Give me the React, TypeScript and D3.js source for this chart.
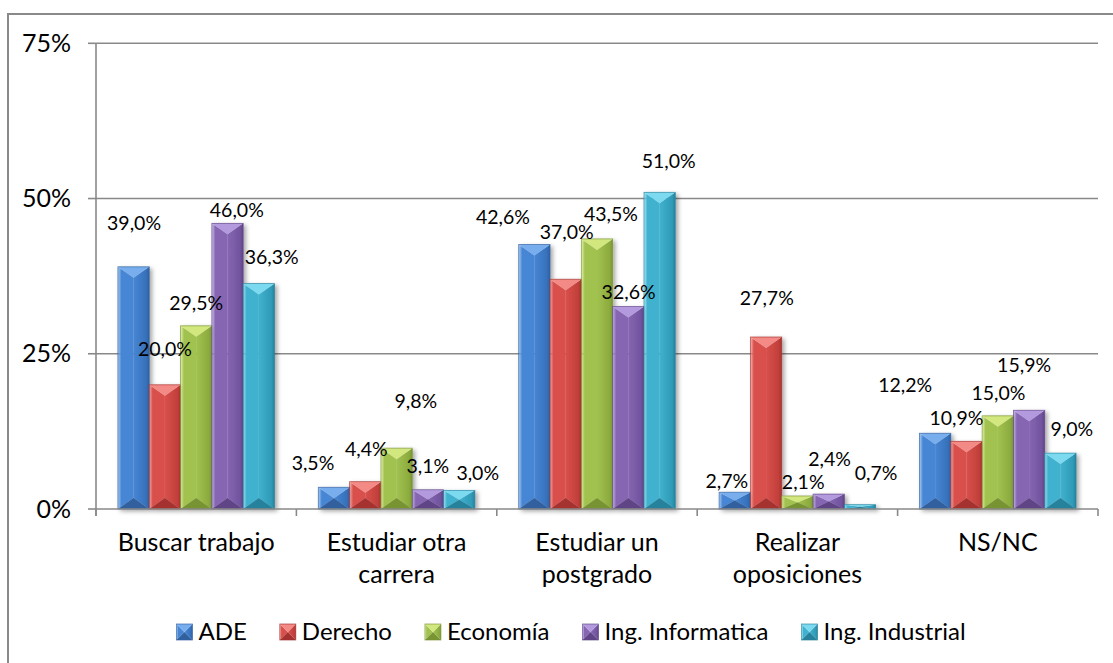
import React, { useMemo } from "react";
import * as d3 from "d3";

// ---------- data ----------
const categories = [
  "Buscar trabajo",
  "Estudiar otra carrera",
  "Estudiar un postgrado",
  "Realizar oposiciones",
  "NS/NC",
];
const seriesNames = ["ADE", "Derecho", "Economía", "Ing. Informatica", "Ing. Industrial"];
const ade = [39.0, 3.5, 42.6, 2.7, 12.2];
const derecho = [20.0, 4.4, 37.0, 27.7, 10.9];
const economia = [29.5, 9.8, 43.5, 2.1, 15.0];
const informatica = [46.0, 3.1, 32.6, 2.4, 15.9];
const industrial = [36.3, 3.0, 51.0, 0.7, 9.0];
const seriesValues = [ade, derecho, economia, informatica, industrial];
const yTicks = [0, 25, 50, 75];

// ---------- layout / style ----------
const W = 1113;
const H = 663;
const PLOT = { left: 96, right: 1098, top: 43.3, bottom: 509 };
const FONT = "Lato, 'Open Sans', sans-serif";
const AXIS_FS = 25;
const LABEL_FS = 19.5;
const LEGEND_FS = 24;
const GRID = "#898989";

// palette: [top facet, left body, right body, bottom facet]
const palette = [
  ["#78aeee", "#4686d4", "#3771bb", "#30609f"],
  ["#f48a86", "#d9504b", "#c13f3b", "#a5322f"],
  ["#d2e87e", "#a2c250", "#8cab3e", "#789433"],
  ["#b39ade", "#8666b3", "#71539e", "#5f4586"],
  ["#7cdaf0", "#3fb2cf", "#2f9ab7", "#26829c"],
];

// manual data-label nudges (dx, dy of text centre relative to bar top centre), per series per category
const labelNudge = [
  [[0.5, -44], [-21, -24], [-31.5, -28], [-8, -11], [-30, -48]],
  [[0, -35.5], [1, -32.7], [1, -47.6], [0.7, -38.7], [-10, -23]],
  [[0, -23], [19.3, -47.5], [14, -25], [5.8, -13.7], [0.6, -22.6]],
  [[9.3, -13.4], [0, -23.8], [0.3, -14.3], [0.8, -35], [-5, -45.3]],
  [[12.8, -26.6], [18.5, -17], [9, -31.6], [16, -32], [11.5, -23.8]],
];

const fmt = (v: number) => v.toFixed(1).replace(".", ",") + "%";

let ctx: CanvasRenderingContext2D | null = null;
function measure(text: string, size: number) {
  if (!ctx) ctx = document.createElement("canvas").getContext("2d");
  if (!ctx) return text.length * size * 0.5;
  ctx.font = `${size}px ${FONT}`;
  return ctx.measureText(text).width;
}

function wrap(text: string, maxW: number, size: number) {
  const words = text.split(" ");
  const lines: string[] = [];
  let cur = "";
  for (const w of words) {
    const t = cur ? cur + " " + w : w;
    if (cur && measure(t, size) > maxW) {
      lines.push(cur);
      cur = w;
    } else cur = t;
  }
  if (cur) lines.push(cur);
  return lines;
}

function BevelBar({ x, y, w, h, si, bevel }: { x: number; y: number; w: number; h: number; si: number; bevel: number }) {
  const [top, , , bottom] = palette[si];
  const cx = x + w / 2;
  const b = Math.min(bevel, h / 2);
  const x1 = x + w;
  const y1 = y + h;
  const pts = (a: number[][]) => a.map((p) => p.join(",")).join(" ");
  return (
    <g>
      <polygon points={pts([[x, y], [cx, y + b], [cx, y1 - b], [x, y1]])} fill={`url(#gl${si})`} />
      <polygon points={pts([[x1, y], [cx, y + b], [cx, y1 - b], [x1, y1]])} fill={`url(#gr${si})`} />
      <polygon points={pts([[x, y], [x1, y], [cx, y + b]])} fill={top} />
      <polygon points={pts([[x, y1], [x1, y1], [cx, y1 - b]])} fill={bottom} />
      <rect x={x} y={y} width={w} height={h} fill="none" stroke={bottom} strokeOpacity={0.8} strokeWidth={0.8} />
    </g>
  );
}

export default function App() {
  const x0 = d3.scaleBand<string>().domain(categories).range([PLOT.left, PLOT.right]).padding(0);
  const x1 = d3
    .scaleBand<string>()
    .domain(seriesNames)
    .range([0, x0.bandwidth()])
    .paddingInner(0)
    .paddingOuter(0.7);
  const y = d3.scaleLinear().domain([0, 75]).range([PLOT.bottom, PLOT.top]);

  const legend = useMemo(() => {
    const marker = 16;
    const gapText = 6;
    const gapItem = 33;
    const widths = seriesNames.map((n) => measure(n, LEGEND_FS));
    const total =
      widths.reduce((a, b) => a + b, 0) + seriesNames.length * (marker + gapText) + gapItem * (seriesNames.length - 1);
    let cur = 571 - total / 2;
    return seriesNames.map((n, i) => {
      const item = { name: n, mx: cur, tx: cur + marker + gapText };
      cur += marker + gapText + widths[i] + gapItem;
      return item;
    });
  }, []);

  const boundaries = [...categories.map((c) => x0(c)!), PLOT.right];

  return (
    <svg
      width={W}
      height={H}
      style={{ position: "absolute", left: 0, top: 0, background: "#fff" }}
      fontFamily={FONT}
    >
      <defs>
        {palette.map((p, i) => (
          <React.Fragment key={i}>
            <linearGradient id={`gl${i}`} x1="0" x2="1" y1="0" y2="0">
              <stop offset="0" stopColor={p[0]} stopOpacity={0.6} />
              <stop offset="0.22" stopColor={p[1]} />
              <stop offset="1" stopColor={p[1]} />
            </linearGradient>
            <linearGradient id={`gr${i}`} x1="0" x2="1" y1="0" y2="0">
              <stop offset="0" stopColor={p[1]} />
              <stop offset="0.8" stopColor={p[2]} />
              <stop offset="1" stopColor={p[3]} />
            </linearGradient>
          </React.Fragment>
        ))}
        <filter id="shadow" x="-20%" y="-20%" width="150%" height="150%">
          <feDropShadow dx="2.5" dy="2" stdDeviation="2" floodColor="#000" floodOpacity="0.35" />
        </filter>
      </defs>

      {/* chart area border */}
      <rect x={8} y={14} width={1200} height={800} fill="#fff" stroke={GRID} strokeWidth={2} />

      {/* gridlines + y ticks */}
      {yTicks.map((t) => (
        <g key={t}>
          {t > 0 && <line x1={PLOT.left} x2={PLOT.right} y1={y(t)} y2={y(t)} stroke={GRID} strokeWidth={1.6} />}
          <line x1={PLOT.left - 8} x2={PLOT.left} y1={y(t)} y2={y(t)} stroke={GRID} strokeWidth={1.6} />
          <text x={71} y={y(t) + 8.5} textAnchor="end" fontSize={AXIS_FS} fill="#000">
            {t}%
          </text>
        </g>
      ))}

      {/* bars */}
      {categories.map((c, ci) => (
        <g key={c} filter="url(#shadow)">
          {seriesNames.map((s, si) => {
            const v = seriesValues[si][ci];
            const bx = x0(c)! + x1(s)!;
            return (
              <BevelBar key={s} x={bx} y={y(v)} w={x1.bandwidth()} h={y(0) - y(v)} si={si} bevel={11} />
            );
          })}
        </g>
      ))}

      {/* axes */}
      <line x1={PLOT.left} x2={PLOT.left} y1={PLOT.top} y2={PLOT.bottom + 7} stroke={GRID} strokeWidth={1.6} />
      <line x1={PLOT.left} x2={PLOT.right} y1={PLOT.bottom} y2={PLOT.bottom} stroke={GRID} strokeWidth={1.6} />
      {boundaries.map((bx, i) => (
        <line key={i} x1={bx} x2={bx} y1={PLOT.bottom} y2={PLOT.bottom + 7} stroke={GRID} strokeWidth={1.6} />
      ))}

      {/* data labels */}
      {categories.map((c, ci) =>
        seriesNames.map((s, si) => {
          const v = seriesValues[si][ci];
          const [dx, dy] = labelNudge[si][ci];
          const cx = x0(c)! + x1(s)! + x1.bandwidth() / 2;
          return (
            <text
              key={c + s}
              x={cx + dx}
              y={y(v) + dy + LABEL_FS * 0.36}
              textAnchor="middle"
              fontSize={LABEL_FS}
              fill="#000"
            >
              {fmt(v)}
            </text>
          );
        })
      )}

      {/* category labels */}
      {categories.map((c) => {
        const lines = wrap(c, x0.bandwidth() - 12, AXIS_FS);
        const cx = x0(c)! + x0.bandwidth() / 2;
        return (
          <text key={c} textAnchor="middle" fontSize={AXIS_FS} fill="#000">
            {lines.map((l, i) => (
              <tspan key={i} x={cx} y={551 + i * 32}>
                {l}
              </tspan>
            ))}
          </text>
        );
      })}

      {/* legend */}
      {legend.map((it, i) => (
        <g key={it.name}>
          <BevelBar x={it.mx} y={624} w={16} h={16} si={i} bevel={8} />
          <text x={it.tx} y={640} fontSize={LEGEND_FS} fill="#000">
            {it.name}
          </text>
        </g>
      ))}
    </svg>
  );
}
